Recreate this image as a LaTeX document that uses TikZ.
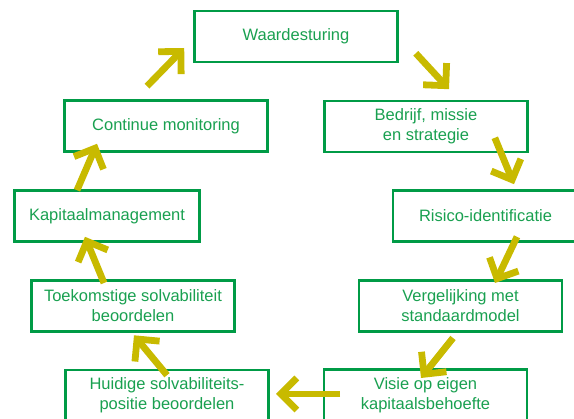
\documentclass[tikz,border=0pt]{standalone}
\usepackage{fontspec}
\setmainfont{Liberation Sans}
\usetikzlibrary{arrows.meta}
\definecolor{boxgreen}{RGB}{0,155,70}
\definecolor{txtgreen}{RGB}{25,160,80}
\definecolor{arrolive}{RGB}{200,186,0}

\begin{document}
\begin{tikzpicture}[
    x=1pt, y=-1pt,
    b1/.style={rectangle, draw=boxgreen, line width=2.6pt, text=txtgreen, align=center, minimum height=51pt, minimum width=203pt, inner sep=0pt, font=\fontsize{16.5}{20}\selectfont},
    b2/.style={b1, minimum width=185pt},
    arr/.style={-{Straight Barb[sharp, length=16pt, width=32pt]}, line width=6.8pt, draw=arrolive}
]
    \useasboundingbox (0,0) rectangle (574,419);
    \clip (0,0) rectangle (574,419);

    \node [b1] (n1) at (296,36.5) {Waardesturing};
    \node [b1] (n2) at (426,126.5) {Bedrijf, missie\\en strategie};
    \node [b2] (n3) at (485.5,216) {Risico-identificatie};
    \node [b1] (n4) at (460.5,306) {Vergelijking met\\standaardmodel};
    \node [b1] (n5) at (425.5,395) {Visie op eigen\\kapitaalsbehoefte};
    \node [b1] (n6) at (167,395.5) {Huidige solvabiliteits-\\positie beoordelen};
    \node [b1] (n7) at (133,306) {Toekomstige solvabiliteit\\beoordelen};
    \node [b2] (n8) at (107,216) {Kapitaalmanagement};
    \node [b1] (n9) at (166,126) {Continue monitoring};

    \draw [arr] ([shift={(17,-10)}]n1.south east) -- ([shift={(23,-10.5)}]n2.north);
    \draw [arr] ([shift={(-34,-15.5)}]n2.south east) -- ([shift={(28.5,-5)}]n3.north);
    \draw [arr] ([shift={(31.5,-6)}]n3.south) -- ([shift={(34.5,3.8)}]n4.north);
    \draw [arr] ([shift={(-7.5,5.2)}]n4.south) -- ([shift={(-4.5,9.8)}]n5.north);
    \draw [arr] ([shift={(17.3,-1)}]n5.west) -- ([shift={(6.2,-1.5)}]n6.east);
    \draw [arr] ([shift={(0,6.5)}]n6.north) -- ([shift={(1,2.5)}]n7.south);
    \draw [arr] ([shift={(-29,3.8)}]n7.north) -- ([shift={(-22,-6)}]n8.south);
    \draw [arr] ([shift={(-30,1)}]n8.north) -- ([shift={(33.8,-9)}]n9.south west);
    \draw [arr] ([shift={(-19,-13)}]n9.north) -- ([shift={(-9,11.5)}]n1.west);
\end{tikzpicture}
\end{document}
